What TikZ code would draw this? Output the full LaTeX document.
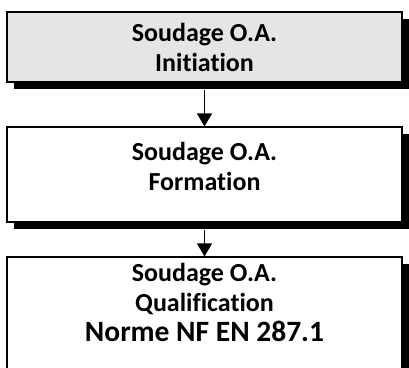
\documentclass[tikz,border=0pt]{standalone}
\usepackage{fontspec}
\setmainfont[Ligatures={NoCommon}]{Carlito}
\usetikzlibrary{shadows,arrows.meta}
\begin{document}
\begin{tikzpicture}[x=1pt,y=-1pt,
	etape/.style={rectangle,draw=black,line width=1.2pt,fill=white,minimum width=395pt,inner sep=0pt,
		drop shadow={shadow xshift=7pt,shadow yshift=-7pt,fill=black,opacity=1}},
	texte/.style={align=center,font=\bfseries\fontsize{26}{30}\selectfont},
	fleche/.style={line width=1.4pt,-{Triangle[width=15pt,length=13pt]}}]
	\useasboundingbox (0,0) rectangle (409,367);
	\node[etape,fill=black!10,minimum height=70pt] (initiation) at (204.5,47) {};
	\node[texte] (t1) at (204.5,47) {Soudage O.A.\\Initiation};
	\node[etape,minimum height=95pt] (formation) at (204.5,174.5) {};
	\node[texte] (t2) at (204.5,166) {Soudage O.A.\\Formation};
	\node[etape,minimum height=130pt] (qualif) at (204.5,322) {};
	\node[texte] (t3) at (204.5,302) {Soudage O.A.\\Qualification\\{\fontsize{29.5}{31}\selectfont Norme NF EN 287.1}};
	\draw[fleche] ([yshift=-7pt]initiation.south) -- (formation.north);
	\draw[fleche] ([yshift=-7pt]formation.south) -- (qualif.north);
\end{tikzpicture}
\end{document}
